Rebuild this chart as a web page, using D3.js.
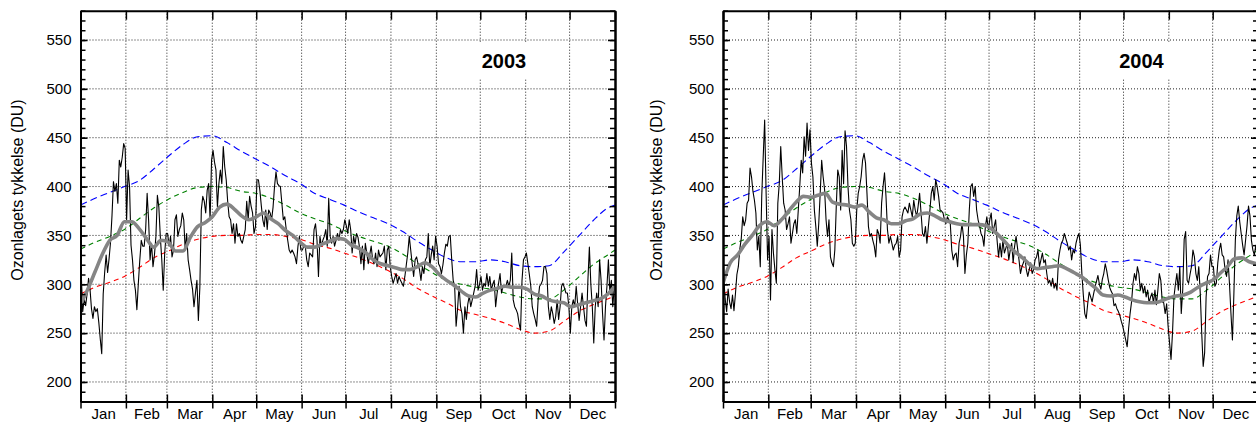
<!DOCTYPE html>
<html>
<head>
<meta charset="utf-8">
<script src="https://cdn.jsdelivr.net/npm/d3@7"></script>
<style>
body { margin: 0; background: #fff; }
svg { font-family: Arial, "Liberation Sans", sans-serif; display: block; }
</style>
</head>
<body>
<div id="chart"></div>
<script>
//maaneder og antal dage
var monthNames = ["Jan","Feb","Mar","Apr","May","Jun","Jul","Aug","Sep","Oct","Nov","Dec"];
var monthLen2003 = [31,28,31,30,31,30,31,31,30,31,30,31];
var monthLen2004 = [31,29,31,30,31,30,31,31,30,31,30,31];
var yTicks = [200,250,300,350,400,450,500,550];

//daglige maalinger 2003 (DU), en linje pr. maaned
var ozone2003 = [
  311,272,285,278,290,306,295,275,265,277,272,275,261,244,229,290,312,330,312,326,343,370,405,395,403,383,427,420,430,444,439,
  366,417,400,340,325,304,294,274,301,325,345,339,339,356,393,366,325,342,318,330,349,391,379,349,325,294,332,352,
  352,339,349,328,335,366,371,349,356,360,373,366,335,352,325,315,304,295,277,291,304,263,297,376,390,385,373,396,403,366,427,
  437,425,417,379,403,417,403,441,420,407,385,369,366,352,362,342,362,349,352,345,342,349,356,385,366,390,380,373,352,359,
  407,407,396,380,366,359,376,356,376,373,366,379,400,415,403,401,400,383,366,369,356,345,335,332,335,332,328,321,339,349,335,
  335,339,339,325,318,332,330,328,356,362,345,308,349,339,345,349,356,339,388,349,342,349,339,345,352,345,356,352,356,366,
  360,352,366,356,332,349,341,352,348,338,321,339,315,342,332,321,330,339,325,321,332,318,335,328,330,332,339,315,335,339,318,
  308,301,306,311,301,308,304,301,298,308,320,332,349,335,321,308,325,328,321,315,304,318,311,325,328,352,318,330,339,325,349,
  339,321,318,311,320,332,341,339,349,350,325,304,298,257,275,298,277,270,250,277,264,280,288,277,284,291,298,315,294,300,
  308,294,301,298,311,298,308,294,300,304,277,291,301,311,291,298,298,298,304,298,304,332,284,277,274,270,260,253,304,325,328,
  332,321,310,298,277,270,264,257,284,298,300,304,318,318,311,277,264,277,270,260,267,284,264,277,298,301,296,291,291,277,
  250,277,284,277,298,280,263,277,291,277,263,257,304,338,300,277,240,277,291,277,325,304,270,243,277,298,325,291,304,277,298
];

//daglige maalinger 2004 (DU)
var ozone2004 = [
  306,285,272,295,282,275,289,273,290,310,318,336,347,369,360,366,383,386,419,410,395,386,373,335,349,318,390,430,468,393,325,
  349,284,356,332,315,301,383,403,441,410,383,376,356,362,369,342,352,362,366,352,376,400,427,414,451,431,465,437,458,
  424,410,376,359,339,362,393,427,410,397,366,349,366,328,322,318,335,380,417,410,376,437,403,457,441,400,376,366,342,339,342,
  376,393,400,410,427,434,424,393,359,349,352,345,339,328,356,352,342,383,400,414,390,356,342,349,342,335,340,342,349,328,
  335,369,376,379,376,373,383,376,369,386,376,369,380,393,373,352,349,359,342,359,375,393,400,386,407,400,390,376,375,373,366,
  362,369,366,362,335,325,330,332,318,342,349,362,349,311,330,342,376,400,403,390,400,376,366,360,352,349,339,359,369,356,
  366,373,352,359,366,345,328,342,328,345,332,337,342,325,335,342,322,339,349,337,325,311,318,322,328,315,308,315,322,311,315,
  325,328,335,318,325,332,322,325,311,301,304,298,306,296,301,294,325,335,342,345,352,347,342,335,339,325,335,332,342,348,352,
  340,311,289,270,265,280,292,287,282,290,297,303,309,300,295,305,311,321,314,305,297,293,290,278,280,275,272,268,262,257,
  250,243,236,255,270,282,301,311,304,318,311,294,301,291,298,287,294,281,287,291,281,294,279,294,311,304,282,281,270,280,257,
  240,223,250,287,300,311,294,318,270,294,346,354,304,301,310,318,335,328,311,304,318,291,250,216,230,287,308,311,330,318,
  318,298,301,322,335,342,330,328,315,308,325,300,270,243,290,345,370,380,364,352,340,330,345,360,380,370,345,335,330,340,325
];

//udglattet kurve (graa), hver 5. dag
var smoothDays = [0,5,10,15,20,25,30,35,40,45,50,55,60,65,70,75,80,85,90,95,100,105,110,115,120,125,130,135,140,145,150,155,160,165,170,175,180,185,190,195,200,205,210,215,220,225,230,235,240,245,250,255,260,265,270,275,280,285,290,295,300,305,310,315,320,325,330,335,340,345,350,355,360,365];
var smooth2003 = [279,295,313,331,345,350,364,364,357,347,338,345,343,334,334,348,359,363,369,379,382,377,370,366,369,373,367,362,355,350,343,338,338,341,344,347,346,340,337,332,325,321,319,317,315,315,318,322,318,310,304,299,293,288,287,291,294,296,298,297,297,295,290,288,284,282,281,277,279,281,283,285,290,298];
var smooth2004 = [301,322,330,341,350,360,364,360,366,375,384,390,389,391,393,384,382,381,379,381,374,368,366,362,362,365,367,372,373,370,366,364,362,361,361,361,360,355,348,340,333,327,320,316,317,318,319,316,312,308,302,296,289,288,289,287,284,282,281,281,283,286,288,289,292,297,301,304,311,318,326,327,323,321];

//normaler: maks (blaa), middel (groen), min (roed)
var climDays = [0,10,20,30,40,50,60,70,80,90,100,110,120,130,140,150,160,170,180,190,200,210,220,230,240,250,260,270,280,290,300,310,320,330,340,350,360,365];
var climMax  = [381,388,394,400,406,418,431,443,451,452,445,436,428,420,411,403,393,387,381,374,368,362,354,344,335,327,323,323,325,323,319,318,319,333,349,365,378,381];
var climMean = [336,343,349,356,367,378,387,394,399,400,399,395,393,388,381,373,367,362,355,349,344,339,331,321,312,304,300,297,295,291,287,285,285,294,307,320,330,335];
var climMin  = [290,297,302,308,317,327,334,341,346,349,350,350,351,351,349,346,341,337,332,327,321,314,306,296,288,281,273,269,265,260,254,250,252,262,272,279,285,288];

var svg = d3.select("#chart")
  .append("svg")
  .attr("width", 1256)
  .attr("height", 424);

var font = "Arial, 'Liberation Sans', sans-serif";

function drawPanel(cfg, idx) {
  var nDays = d3.sum(cfg.monthLen);
  var bounds = [0].concat(Array.from(d3.cumsum(cfg.monthLen)));
  var mids = cfg.monthLen.map(function(m, i) { return bounds[i] + m / 2; });

  var x = d3.scaleLinear().domain([0, nDays]).range([cfg.left, cfg.right]);
  var y = d3.scaleLinear().domain([180, 580]).range([401.5, 10.7]);

  var g = svg.append("g");

  //klip til plotomraadet
  g.append("clipPath").attr("id", "clip" + idx)
    .append("rect")
    .attr("x", x(0)).attr("y", y(580))
    .attr("width", x(nDays) - x(0)).attr("height", y(180) - y(580));

  //gitter
  g.append("g").selectAll("line")
    .data(yTicks)
    .join("line")
    .attr("x1", x(0)).attr("x2", x(nDays))
    .attr("y1", function(d) { return y(d); })
    .attr("y2", function(d) { return y(d); })
    .attr("stroke", "#222")
    .attr("stroke-dasharray", "1,2");

  g.append("g").selectAll("line")
    .data(bounds.slice(1, -1))
    .join("line")
    .attr("x1", function(d) { return x(d); })
    .attr("x2", function(d) { return x(d); })
    .attr("y1", y(580)).attr("y2", y(180))
    .attr("stroke", "#222")
    .attr("stroke-dasharray", "1,2");

  //aarstal med hvid baggrund
  g.append("rect")
    .attr("x", x(0) + cfg.titleX - 29)
    .attr("y", 42)
    .attr("width", 58)
    .attr("height", 37)
    .attr("fill", "#fff");

  g.append("text")
    .attr("x", x(0) + cfg.titleX)
    .attr("y", 68)
    .attr("text-anchor", "middle")
    .attr("font-size", 20)
    .attr("font-weight", "bold")
    .attr("font-family", font)
    .text(cfg.title);

  var plot = g.append("g").attr("clip-path", "url(#clip" + idx + ")");

  var climLine = function(vals) {
    return d3.line()
      .x(function(d, i) { return x(climDays[i] * nDays / 365); })
      .y(function(d) { return y(d); })
      .curve(d3.curveMonotoneX)(vals);
  };

  plot.append("path").attr("d", climLine(climMax))
    .attr("fill", "none").attr("stroke", "#0000ff").attr("stroke-width", 1.1)
    .attr("stroke-dasharray", "7,4");
  plot.append("path").attr("d", climLine(climMean))
    .attr("fill", "none").attr("stroke", "#008000").attr("stroke-width", 1.1)
    .attr("stroke-dasharray", "5,4");
  plot.append("path").attr("d", climLine(climMin))
    .attr("fill", "none").attr("stroke", "#ff0000").attr("stroke-width", 1.1)
    .attr("stroke-dasharray", "5,4");

  //daglige vaerdier
  plot.append("path")
    .datum(cfg.daily)
    .attr("fill", "none")
    .attr("stroke", "#000")
    .attr("stroke-width", 1.1)
    .attr("stroke-linejoin", "round")
    .attr("d", d3.line()
      .x(function(d, i) { return x(i + 0.5); })
      .y(function(d) { return y(d); }));

  //udglattet
  plot.append("path")
    .datum(cfg.smooth)
    .attr("fill", "none")
    .attr("stroke", "#858585")
    .attr("stroke-width", 3.6)
    .attr("stroke-linejoin", "round")
    .attr("d", d3.line()
      .x(function(d, i) { return x(Math.min(smoothDays[i], nDays)); })
      .y(function(d) { return y(d); })
      .curve(d3.curveMonotoneX));

  //akser
  var styleAxis = function(a) {
    a.select(".domain").attr("stroke-width", 2);
    a.selectAll(".tick line").attr("stroke-width", 1.5);
    a.attr("font-family", font).attr("font-size", 15);
  };

  g.append("g")
    .attr("transform", "translate(0," + y(180) + ")")
    .call(d3.axisBottom(x).tickValues(bounds).tickSize(7).tickSizeOuter(0).tickFormat(""))
    .call(styleAxis);
  g.append("g")
    .attr("transform", "translate(0," + y(180) + ")")
    .call(d3.axisBottom(x).tickValues(bounds).tickSize(-7).tickSizeOuter(0).tickFormat(""))
    .call(styleAxis);
  g.append("g")
    .attr("transform", "translate(0," + y(180) + ")")
    .call(d3.axisBottom(x).tickValues(mids).tickSize(0).tickPadding(7)
      .tickFormat(function(d, i) { return monthNames[i]; }))
    .call(function(a) {
      a.select(".domain").remove();
      a.attr("font-family", font).attr("font-size", 15);
      a.selectAll("text").attr("fill", "#000");
    });

  g.append("g")
    .attr("transform", "translate(0," + y(580) + ")")
    .call(d3.axisTop(x).tickValues(bounds).tickSize(-9).tickSizeOuter(0).tickFormat(""))
    .call(styleAxis);

  var minor = d3.range(180, 581, 10);
  g.append("g")
    .attr("transform", "translate(" + x(0) + ",0)")
    .call(d3.axisLeft(y).tickValues(minor).tickSize(-5).tickSizeOuter(0).tickFormat(""))
    .call(styleAxis);
  g.append("g")
    .attr("transform", "translate(" + x(0) + ",0)")
    .call(d3.axisLeft(y).tickValues(yTicks).tickSize(-7).tickSizeOuter(0).tickPadding(9))
    .call(styleAxis)
    .call(function(a) { a.selectAll("text").attr("fill", "#000"); });

  g.append("g")
    .attr("transform", "translate(" + x(nDays) + ",0)")
    .call(d3.axisRight(y).tickValues(minor).tickSize(-5).tickSizeOuter(0).tickFormat(""))
    .call(styleAxis);
  g.append("g")
    .attr("transform", "translate(" + x(nDays) + ",0)")
    .call(d3.axisRight(y).tickValues(yTicks).tickSize(-7).tickSizeOuter(0).tickFormat(""))
    .call(styleAxis);

  //y-akse titel
  g.append("text")
    .attr("transform", "translate(" + cfg.labelX + ",190) rotate(-90)")
    .attr("text-anchor", "middle")
    .attr("dy", "0.35em")
    .attr("font-size", 16)
    .attr("font-family", font)
    .text("Ozonlagets tykkelse (DU)");
}

drawPanel({ left: 80.5, right: 615, monthLen: monthLen2003, daily: ozone2003,
  smooth: smooth2003, title: "2003", titleX: 423.5, labelX: 17 }, 0);
drawPanel({ left: 723, right: 1258, monthLen: monthLen2004, daily: ozone2004,
  smooth: smooth2004, title: "2004", titleX: 418.5, labelX: 656 }, 1);
</script>
</body>
</html>
